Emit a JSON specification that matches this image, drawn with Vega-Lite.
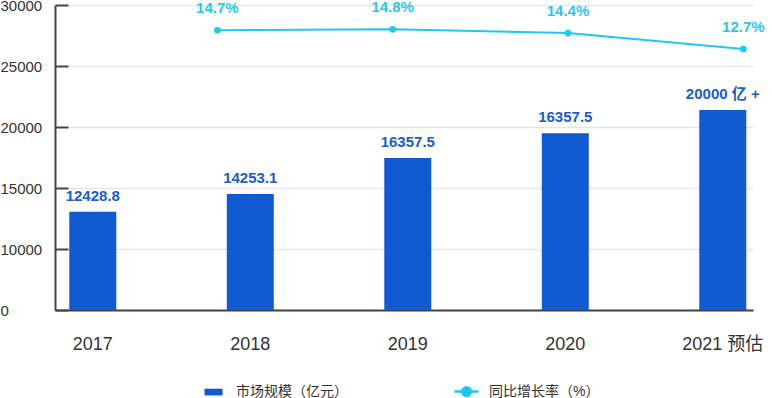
{
  "$schema": "https://vega.github.io/schema/vega-lite/v6.json",
  "width": 698,
  "height": 305,
  "autosize": {"type": "none"},
  "padding": {"left": 55, "top": 5, "right": 19, "bottom": 88},
  "background": "white",
  "config": {
    "font": "Liberation Sans, 'Noto Sans CJK SC', sans-serif",
    "view": {"stroke": null}
  },
  "data": {
    "values": [
      {"year": "2017", "yr": 2017, "market": 13060, "marketLabel": "12428.8", "growth": null, "growthLabel": null},
      {"year": "2018", "yr": 2018, "market": 14510, "marketLabel": "14253.1", "growth": 14.7, "growthLabel": "14.7%"},
      {"year": "2019", "yr": 2019, "market": 17460, "marketLabel": "16357.5", "growth": 14.8, "growthLabel": "14.8%"},
      {"year": "2020", "yr": 2020, "market": 19480, "marketLabel": "16357.5", "growth": 14.4, "growthLabel": "14.4%"},
      {"year": "2021 预估", "yr": 2021, "market": 21390, "marketLabel": "20000 亿 +", "growth": 12.7, "growthLabel": "12.7%"}
    ]
  },
  "layer": [
    {
      "encoding": {
        "x": {
          "field": "year", "type": "nominal", "sort": null,
          "scale": {"type": "band", "paddingInner": 0.7016, "paddingOuter": 0.0667, "align": 0.68, "round": false},
          "axis": {
            "title": null, "labelAngle": 0, "ticks": false, "domainColor": "#444", "domainWidth": 2,
            "labelFontSize": 18, "labelColor": "#333", "labelPadding": 34, "labelBaseline": "middle", "grid": false
          }
        },
        "y": {
          "field": "market", "type": "quantitative",
          "scale": {"domain": [5000, 30000], "nice": false, "zero": false},
          "axis": {
            "title": null, "values": [5000, 10000, 15000, 20000, 25000, 30000],
            "labelExpr": "datum.value == 5000 ? '0' : format(datum.value, 'd')",
            "labelAlign": "left", "labelPadding": 68, "labelFontSize": 15, "labelColor": "#333",
            "ticks": true, "tickSize": -13, "tickColor": "#444", "tickWidth": 2,
            "domainColor": "#444", "domainWidth": 2,
            "grid": true, "gridColor": "#e6e6e6", "gridWidth": 1.5, "gridDash": [0, 13, 2000]
          }
        }
      },
      "layer": [
        {
          "mark": {"type": "bar", "clip": true},
          "encoding": {
            "color": {
              "datum": "市场规模（亿元）", "type": "nominal",
              "scale": {"domain": ["市场规模（亿元）", "同比增长率（%）"], "range": ["#105bd1", "#1ec8ee"]},
              "legend": {
                "orient": "none", "legendX": 145, "legendY": 373, "direction": "horizontal",
                "title": null, "padding": 0, "symbolSize": 576, "labelFontSize": 14, "labelColor": "#333",
                "labelOffset": 9, "columnPadding": 101,
                "encode": {
                  "symbols": {
                    "update": {
                      "shape": {"signal": "datum.value === '市场规模（亿元）' ? 'M-0.75,-0.28H0.75V0.28H-0.75Z' : 'M-1,0H1M-0.36,0A0.36,0.36 0 1 1 0.36,0A0.36,0.36 0 1 1 -0.36,0Z'"},
                      "stroke": {"signal": "datum.value === '市场规模（亿元）' ? 'transparent' : '#1ec8ee'"},
                      "strokeWidth": {"value": 2.5}
                    }
                  }
                }
              }
            }
          }
        },
        {
          "mark": {"type": "text", "dy": -16, "fontSize": 15, "fontWeight": "bold", "color": "#1a5cd2"},
          "encoding": {"text": {"field": "marketLabel"}}
        }
      ]
    },
    {
      "encoding": {
        "x": {
          "field": "yr", "type": "quantitative",
          "scale": {"domain": [2017.074, 2021.055], "nice": false, "zero": false},
          "axis": null
        },
        "y": {
          "field": "growth", "type": "quantitative",
          "scale": {"domain": [-15.13, 17.39], "nice": false, "zero": false},
          "axis": null
        }
      },
      "layer": [
        {
          "mark": {"type": "line", "color": "#1ec8ee", "strokeWidth": 2, "point": {"filled": true, "size": 45, "color": "#1ec8ee"}}
        },
        {
          "mark": {"type": "text", "dy": -22, "fontSize": 15, "fontWeight": "bold", "color": "#2bc6ef"},
          "encoding": {"text": {"field": "growthLabel"}}
        }
      ]
    }
  ],
  "resolve": {"scale": {"x": "independent", "y": "independent"}}
}
